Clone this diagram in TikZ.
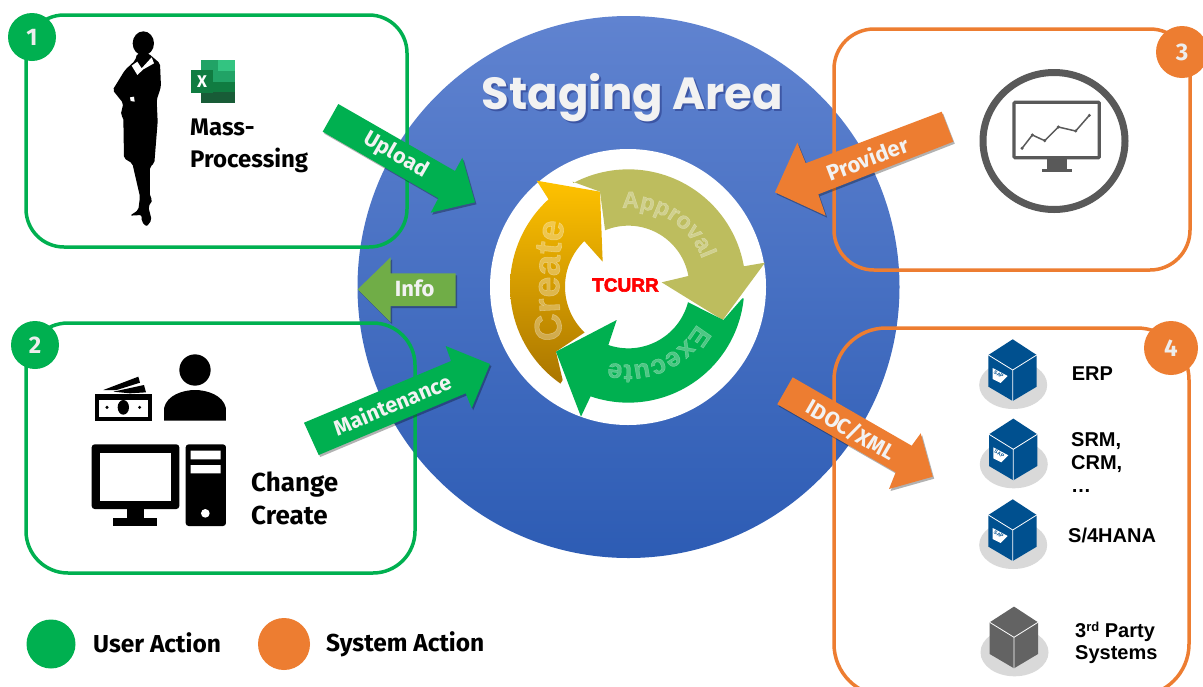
\documentclass[tikz,border=0pt]{standalone}
\usepackage{fontspec}
\usetikzlibrary{shadows,decorations.text}
\setmainfont{Fira Sans}
\newcommand\semifont{\normalfont\bfseries}
\newfontfamily\arialb{Liberation Sans Bold}
\newfontfamily\ringfont[FakeBold=1.5]{Liberation Sans Bold}
\newfontfamily\heavyfont[FakeBold=3]{Liberation Sans Bold}
\newfontfamily\popfont{Poppins Bold}
\definecolor{grn}{HTML}{00B050}
\definecolor{org}{HTML}{ED7D31}
\definecolor{infogrn}{HTML}{70AD47}
\definecolor{appr}{HTML}{BDBD5E}
\definecolor{icongrey}{HTML}{595959}
\definecolor{sapblue}{HTML}{00508F}
\definecolor{cubegrey}{HTML}{636363}
\definecolor{disc}{HTML}{D9D9D9}
\definecolor{bluetop}{RGB}{96,131,208}
\definecolor{bluebot}{RGB}{45,92,180}
\definecolor{goldtop}{RGB}{255,194,0}
\definecolor{goldbot}{RGB}{170,118,0}
\definecolor{tcred}{RGB}{255,0,0}
\definecolor{xla}{RGB}{33,163,102}
\definecolor{xlb}{RGB}{51,196,129}
\definecolor{xlc}{RGB}{16,124,65}
\definecolor{xld}{RGB}{24,92,55}
\newcommand\sz[1]{\fontsize{#1}{#1}\selectfont}
\tikzset{
  panel/.style={rectangle,line width=3.5pt,outer sep=0pt,inner sep=0pt,fill=none},
  badge/.style={circle,minimum size=#1,inner sep=0pt,outer sep=0pt,text=white!93!black,font=\semifont\sz{24}},
  blockg/.style={fill=grn,drop shadow={shadow xshift=1.5pt,shadow yshift=-2pt,opacity=.3,fill=black}},
  blocko/.style={fill=org,drop shadow={shadow xshift=1.5pt,shadow yshift=-2pt,opacity=.3,fill=black}},
  blocki/.style={fill=infogrn,drop shadow={shadow xshift=1.5pt,shadow yshift=-2pt,opacity=.3,fill=black}},
  arrlabel/.style={text=white!95!black,inner sep=0pt,font=\semifont\sz{#1}},
  bodytext/.style={text=black,inner sep=0pt,font=\semifont\sz{#1}},
  systext/.style={text=black,inner sep=0pt,anchor=base west,font=\arialb\sz{20}},
  ringword/.style={decorate,decoration={text along path,text align=center,text={#1}}},
}
% x, y, colour: isometric cube on a grey disc
\newcommand\cubeicon[3]{%
  \begin{scope}[shift={(#1,#2)}]
    \fill[disc] (0.5,15) ellipse[x radius=34,y radius=24];
    \fill[#3] (0,-30.7) -- (24,-15) -- (24,16.7) -- (0,31) -- (-24.3,16.7) -- (-24.3,-15) -- cycle;
    \draw[white,line width=.8pt] (-24.3,-15) -- (0,0) -- (24,-15) (0,0) -- (0,31);
  \end{scope}}
\newcommand\saplogo[2]{%
  \begin{scope}[shift={(#1,#2)}]
    \fill[white] (-20,-2) -- (-5,6) -- (-12,13) -- (-20,9) -- cycle;
    \node[inner sep=0pt,text=sapblue,font=\arialb\sz{5},rotate=-28] at (-14,4.5) {SAP};
  \end{scope}}
\begin{document}
\begin{tikzpicture}[x=1pt,y=-1pt]
\clip (0,0) rectangle (1203,686);
\fill[white] (0,0) rectangle (1203,686);
% staging circle
\shade[top color=bluetop,bottom color=bluebot] (628.5,287) circle[radius=271];
\node[inner sep=0pt,text=black!70!blue,opacity=.3,font=\popfont\sz{45}] (titleshadow) at (634.5,100) {Staging Area};
\node[inner sep=0pt,text=white!95!black,font=\popfont\sz{45}] (title) at (632.5,98) {Staging Area};
\fill[white] (628,287) circle[radius=138];
% cycle arrows, measured at 3x about the ring centre
\begin{scope}[shift={(480,150)},x=.33333pt,y=-.33333pt]
  \shade[top color=goldtop,bottom color=goldbot]
    (170,92) -- (360,125) -- (368,335) -- (310,270)
    -- plot[domain=226:133.7,samples=40] ({445+190*cos(\x)},{410+190*sin(\x)})
    -- (228,605) -- (248,690)
    -- plot[domain=125:227.6,samples=40] ({445+355*cos(\x)},{410+355*sin(\x)}) -- cycle;
  \fill[appr] (278,95)
    -- plot[domain=-118:-10,samples=50] ({445+352*cos(\x)},{410+352*sin(\x)})
    -- (855,338) -- (728,510) -- (545,397) -- (625,378)
    -- plot[domain=-10:-112.4,samples=40] ({445+183*cos(\x)},{410+183*sin(\x)})
    -- (360,125) -- cycle;
  \fill[grn] (303,800) -- (228,605) -- (410,510) -- (385,585)
    -- plot[domain=108.9:14.6,samples=40] ({445+185*cos(\x)},{410+185*sin(\x)})
    -- (730,510) -- (787,445)
    -- plot[domain=5.8:109,samples=50] ({445+348*cos(\x)},{410+348*sin(\x)}) -- cycle;
  \begin{scope}[opacity=.3]
    \path[ringword={|\ringfont\sz{23.5}\color{white}|Approval}] plot[domain=-115:0,samples=60] ({445+236*cos(\x)},{410+236*sin(\x)});
    \path[ringword={|\ringfont\sz{27}\color{white}|Execute}] plot[domain=8:125,samples=60] ({445+234*cos(\x)},{410+234*sin(\x)});
    \path[ringword={|\ringfont\sz{38}\color{white}|Create}] (252,590) .. controls (232,470) and (232,330) .. (258,195);
  \end{scope}
\end{scope}
\node[inner sep=0pt,text=tcred,font=\heavyfont\sz{19}] (tcurr) at (625.5,285) {TCURR};
% panels
\node[panel,draw=grn,rounded corners=38pt,minimum width=381pt,minimum height=232pt] (box1) at (216.5,131) {};
\node[panel,draw=grn,rounded corners=42pt,minimum width=389pt,minimum height=250pt] (box2) at (220.5,448) {};
\node[panel,draw=org,rounded corners=40pt,minimum width=356pt,minimum height=241pt] (box3) at (1012,149.5) {};
\node[panel,draw=org,rounded corners=52pt,minimum width=355pt,minimum height=368pt] (box4) at (1011.5,512) {};
\node[badge=48pt,fill=grn] (b1) at (32,37) {1};
\node[badge=48pt,fill=grn] (b2) at (35,345) {2};
\node[badge=52pt,fill=org] (b3) at (1182,52) {3};
\node[badge=54pt,fill=org] (b4) at (1171,348) {4};
% block arrows
\path[blockg] (338.3,104) -- (455,171) -- (462.3,157.7) -- (475,202.3) -- (430.7,212.7) -- (438.3,198.3) -- (322.7,131.7) -- cycle;
\path[blocki] (357.7,289.3) -- (390.7,257.3) -- (390.7,273.3) -- (455.7,273.3) -- (455.7,306) -- (390.7,306) -- (390.7,322.3) -- cycle;
\path[blockg] (304,422.7) -- (451,361) -- (445.7,346) -- (490,364) -- (471.7,408.3) -- (465.7,393.3) -- (318.7,455) -- cycle;
\path[blocko] (941.7,111.7) -- (953.3,141.7) -- (818.3,194.3) -- (825.7,215.7) -- (775,192.3) -- (797.3,142.7) -- (805.7,163.3) -- cycle;
\path[blocko] (792.7,377.3) -- (911.7,445.7) -- (920.7,433.3) -- (932.7,476.7) -- (889,489) -- (895.7,472.3) -- (777.3,404.3) -- cycle;
\node[arrlabel=21.5,rotate=-30] (lupload) at (396,155) {Upload};
\node[arrlabel=22] (linfo) at (414.7,288.7) {Info};
\node[arrlabel=21.5,rotate=22.8] (lmaint) at (392,404) {Maintenance};
\node[arrlabel=22,rotate=20.8] (lprov) at (867.3,158.3) {Provider};
\node[arrlabel=21.5,rotate=-30] (lidoc) at (851,430) {IDOC/XML};
% panel 1 content: silhouette
\begin{scope}[x=.33333pt,y=-.33333pt]
  \fill[black] (430,130) ellipse[x radius=32,y radius=36];
  \fill[black,rounded corners=2pt] (412,160) -- (405,182) -- (375,210) -- (338,270) -- (370,310) -- (362,345) -- (370,352) -- (372,475) -- (397,490) -- (420,590) -- (415,630) -- (390,647) -- (425,645) -- (425,665) -- (440,680) -- (455,660) -- (445,620) -- (458,600) -- (450,590) -- (450,500) -- (463,490) -- (473,365) -- (470,300) -- (483,260) -- (480,190) -- (445,160) -- cycle;
  \fill[white] (395,197) -- (412,185) -- (425,205) -- (455,172) -- (462,190) -- (430,208) -- (412,225) -- cycle;
  \fill[white] (390,292) -- (402,290) -- (404,305) -- (392,303) -- cycle;
  % excel icon
  \fill[xla] (602,181) rectangle (705,245);
  \fill[xlb] (653,181) rectangle (705,213);
  \fill[xlc] (602,245) rectangle (705,276);
  \fill[xld] (602,276) rectangle (705,308);
  \fill[xlc] (572,210) rectangle (640,278);
\end{scope}
\node[inner sep=0pt,text=white,font=\semifont\sz{17}] (xl) at (202,81.5) {X};
\node[bodytext=24,anchor=west,align=left] (mass) at (190,145.5) {Mass-\\[8pt]Processing};
% panel 2 content: icons
\begin{scope}[shift={(70,340)},x=.33333pt,y=-.33333pt]
  \fill[black] (375,90) circle[radius=47];
  \fill[black] (282,242) -- (282,205) .. controls (290,165) and (340,150) .. (375,150) .. controls (410,150) and (460,165) .. (468,205) -- (468,242) -- cycle;
  \fill[black] (100,150) -- (205,110) -- (210,128) -- (140,150) -- cycle;
  \fill[black] (130,155) -- (222,135) -- (228,157) -- (180,160) -- cycle;
  \fill[black] (75,163) rectangle (247,242);
  \fill[white] (87,180) rectangle (235,230);
  \fill[black] (160,202) ellipse[x radius=17,y radius=22];
  \fill[black] (111,202) circle[radius=5] (209,202) circle[radius=5];
  \fill[black,rounded corners=3pt] (65,313) rectangle (328,507);
  \fill[white] (90,338) rectangle (303,482);
  \fill[black] (170,500) rectangle (222,535);
  \fill[black] (130,533) rectangle (262,558);
  \fill[black,rounded corners=3pt] (347,313) rectangle (468,558);
  \fill[white] (362,332) rectangle (452,358) (362,375) rectangle (452,400);
  \fill[white] (406,520) circle[radius=13];
\end{scope}
\node[bodytext=26,anchor=west,align=left] (change) at (251,498) {Change\\[7pt]Create};
% panel 3 content: monitor
\draw[icongrey,line width=7pt] (1054,141) ellipse[x radius=71,y radius=68.5];
\begin{scope}[shift={(960,70)},x=.33333pt,y=-.33333pt]
  \draw[icongrey,line width=3.3pt,rounded corners=1pt] (162,97) rectangle (418,263);
  \fill[icongrey] (262,266) rectangle (320,298);
  \fill[icongrey] (247,298) rectangle (335,305);
  \draw[icongrey,line width=1.5pt] (186,235) -- (217,195) -- (254,212) -- (295,171) -- (347,183) -- (388,136);
  \foreach \p in {(186,235),(217,195),(254,212),(295,171),(347,183),(388,136)} \fill[icongrey] \p circle[radius=5];
\end{scope}
% panel 4 content: systems
\cubeicon{1012.7}{370}{sapblue}
\cubeicon{1013.3}{449.3}{sapblue}
\cubeicon{1012.7}{530}{sapblue}
\cubeicon{1014}{637.3}{cubegrey}
\saplogo{1012.7}{370}
\saplogo{1013.3}{449.3}
\saplogo{1012.7}{530}
\node[systext] (erp) at (1071.7,380.7) {ERP};
\node[systext] (srm) at (1071,446.7) {SRM,};
\node[systext] (crm) at (1071,469) {CRM,};
\node[systext] (dots) at (1071,492) {\ldots};
\node[systext] (s4) at (1068,542) {S/4HANA};
\node[systext] (third) at (1075,637) {3\raisebox{.5ex}{\sz{13}rd} Party};
\node[systext] (sys) at (1075,659) {Systems};
% legend
\node[circle,fill=grn,minimum size=49pt,inner sep=0pt] (leguser) at (51,644) {};
\node[circle,fill=org,minimum size=52pt,inner sep=0pt] (legsys) at (284,644) {};
\node[bodytext=24.5,anchor=base west] (tuser) at (93,652.5) {User Action};
\node[bodytext=24.5,anchor=base west] (tsys) at (326,651.5) {System Action};
\end{tikzpicture}
\end{document}
